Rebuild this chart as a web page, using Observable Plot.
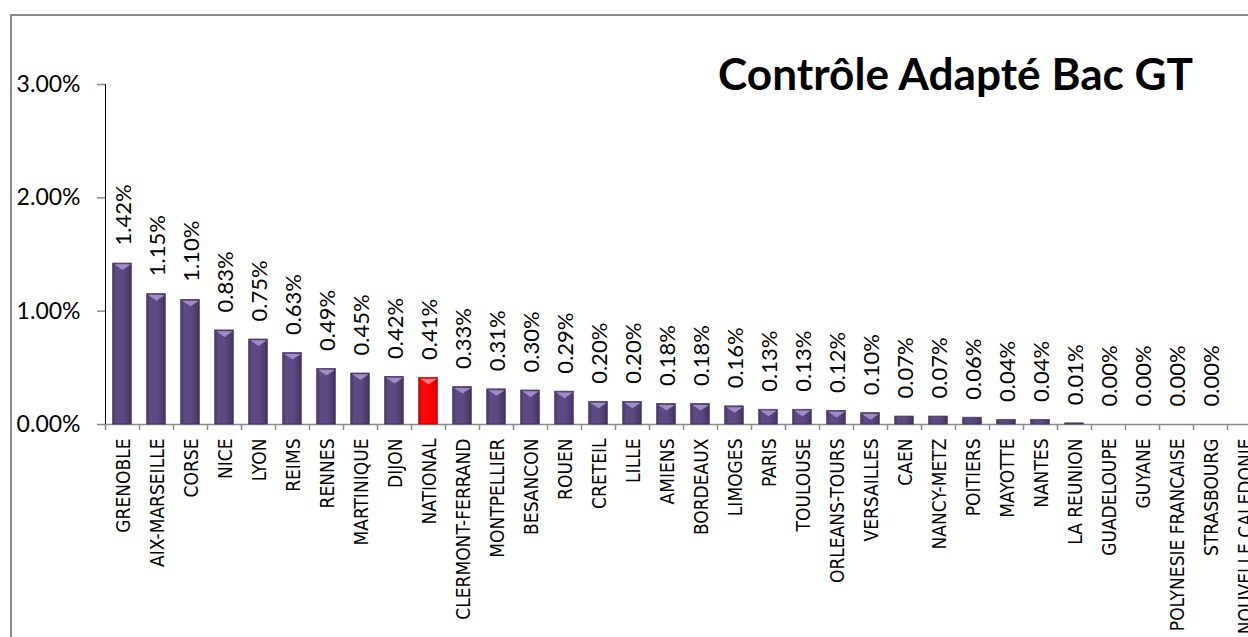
<!DOCTYPE html>
<html><head><meta charset="utf-8">
<script src="https://cdn.jsdelivr.net/npm/d3@7"></script>
<script src="https://cdn.jsdelivr.net/npm/@observablehq/plot@0.6"></script>
<style>
html,body{margin:0;padding:0;background:#fff;overflow:hidden;}
#wrap{position:relative;width:1248px;height:637px;overflow:hidden;background:#fff;}
#chart{position:absolute;left:0;top:0;}
#border{position:absolute;left:10px;top:14px;width:1300px;height:700px;border:2px solid #8a8a8a;box-sizing:border-box;pointer-events:none;}
#title{position:absolute;right:55px;top:51px;font-family:Lato,sans-serif;font-weight:700;font-size:44px;line-height:44px;white-space:nowrap;transform-origin:right center;color:#000;}
svg g[aria-label^="y-axis"] line, svg g[aria-label^="y-axis"] path{stroke:#8a8a8a;stroke-width:1.5;}
svg g[aria-label^="y-axis"] text{font-size:23px;fill:#000;}
</style></head>
<body>
<div id="wrap"><div id="chart"></div><div id="border"></div><div id="title">Contrôle Adapté Bac GT</div></div>
<script>
const academies = ["GRENOBLE","AIX-MARSEILLE","CORSE","NICE","LYON","REIMS","RENNES","MARTINIQUE","DIJON","NATIONAL",
  "CLERMONT-FERRAND","MONTPELLIER","BESANCON","ROUEN","CRETEIL","LILLE","AMIENS","BORDEAUX","LIMOGES","PARIS",
  "TOULOUSE","ORLEANS-TOURS","VERSAILLES","CAEN","NANCY-METZ","POITIERS","MAYOTTE","NANTES","LA REUNION","GUADELOUPE",
  "GUYANE","POLYNESIE FRANCAISE","STRASBOURG","NOUVELLE CALEDONIE"];
const rates = [1.42,1.15,1.10,0.83,0.75,0.63,0.49,0.45,0.42,0.41,
  0.33,0.31,0.30,0.29,0.20,0.20,0.18,0.18,0.16,0.13,
  0.13,0.12,0.10,0.07,0.07,0.06,0.04,0.04,0.01,0.00,
  0.00,0.00,0.00,null];
const highlight = "NATIONAL";
const yTicks = [0,1,2,3];

const data = academies.map((name,i)=>({name, value: rates[i]})).filter(d=>d.value!=null);
const W=1248,H=637,left=105,step=34,inset=7.7;
const xRange=[left,left+step*academies.length];
const barW=step-2*inset;
const bevel={draw(ctx){const h=barW/2-1;ctx.moveTo(-h,0.8);ctx.lineTo(h,0.8);ctx.lineTo(0,6.5);ctx.closePath();}};
const fmt=d=>d.toFixed(2)+"%";

const chart = Plot.plot({
  width:W,height:H,marginLeft:left,marginRight:0,marginTop:84,marginBottom:213,
  style:{fontFamily:"Lato, sans-serif",fontSize:"23px",color:"#000",background:"transparent",overflow:"hidden"},
  x:{domain:academies,range:xRange,padding:0,round:false,axis:null},
  y:{domain:[0,3],ticks:yTicks,tickFormat:fmt,tickSize:8,tickPadding:17,line:true,label:null},
  marks:[
    Plot.ruleY([0],{stroke:"#8a8a8a",strokeWidth:1.5}),
    Plot.ruleX(academies,{x:d=>d,y1:d=>0,y2:d=>0,insetBottom:-6,dx:-step/2,stroke:"#8a8a8a",strokeWidth:1.5}),
    Plot.barY(data.filter(d=>d.name!==highlight&&d.value>0),{x:"name",y:"value",insetLeft:inset,insetRight:inset,fill:"url(#gP)",stroke:"#3f3058",strokeWidth:0.7}),
    Plot.barY(data.filter(d=>d.name===highlight),{x:"name",y:"value",insetLeft:inset,insetRight:inset,fill:"url(#gR)",stroke:"#a00000",strokeWidth:0.7}),
    Plot.dot(data.filter(d=>d.name!==highlight&&d.value>=0.1),{x:"name",y:"value",symbol:bevel,r:3,fill:"#a08bc9",stroke:"none"}),
    Plot.dot(data.filter(d=>d.name===highlight),{x:"name",y:"value",symbol:bevel,r:3,fill:"#ff7a7a",stroke:"none"}),
    Plot.text(data,{x:"name",y:"value",text:d=>fmt(d.value),rotate:-90,textAnchor:"start",dy:-18,dx:1.5,fontSize:22,fill:"#000"}),
    Plot.text(academies,{x:d=>d,y:d=>0,text:d=>d,rotate:-90,textAnchor:"end",dy:14,dx:1,fontSize:19,fontFamily:"DejaVu Sans Condensed",fill:"#000"})
  ]
});
const svg=d3.select(chart);
svg.insert("defs",":first-child").html(`
<linearGradient id="gP" x1="0" x2="1" y1="0" y2="0">
<stop offset="0" stop-color="#4a3968"/><stop offset="0.2" stop-color="#5e4a85"/><stop offset="0.6" stop-color="#5c4882"/><stop offset="1" stop-color="#433360"/>
</linearGradient>
<linearGradient id="gR" x1="0" x2="1" y1="0" y2="0">
<stop offset="0" stop-color="#d80000"/><stop offset="0.25" stop-color="#ff0a0a"/><stop offset="0.65" stop-color="#ff0000"/><stop offset="1" stop-color="#cc0000"/>
</linearGradient>`);
document.getElementById("chart").appendChild(chart);
const t=document.getElementById("title");
const w=t.getBoundingClientRect().width;
t.style.transform=`scaleX(${475/w})`;
</script>
</body></html>
